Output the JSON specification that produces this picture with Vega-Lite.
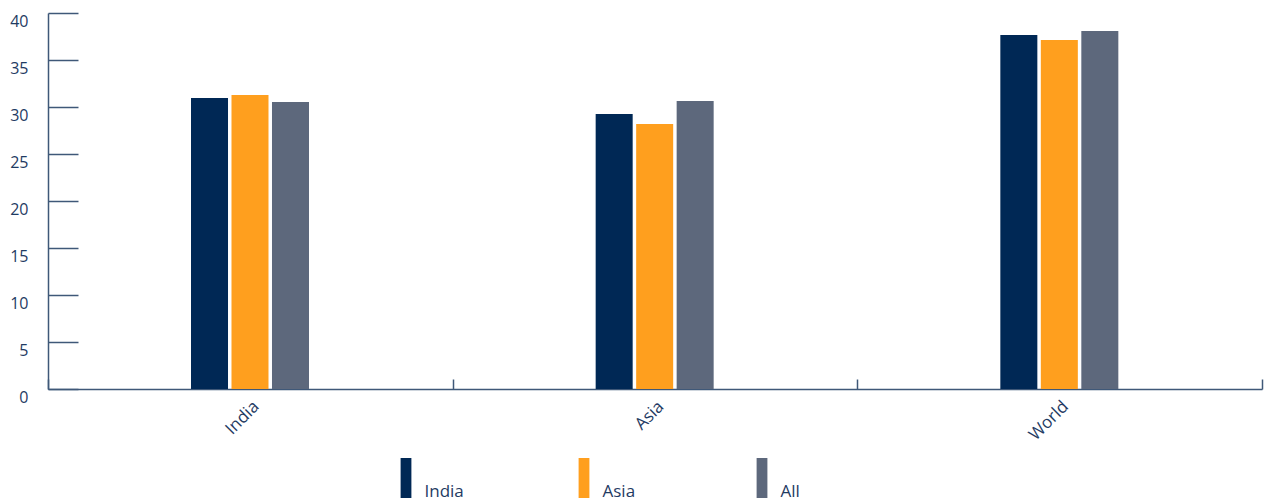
{
  "$schema": "https://vega.github.io/schema/vega-lite/v6.json",
  "width": 1214,
  "height": 376,
  "autosize": "none",
  "padding": {"left": 48, "top": 13, "right": 3, "bottom": 112},
  "background": "white",
  "config": {
    "view": {"stroke": null},
    "font": "Open Sans",
    "axis": {"labelFont": "Open Sans", "labelColor": "#1f3b63", "domainColor": "#3f5878", "tickColor": "#3f5878", "domainWidth": 1.5, "tickWidth": 1.5, "grid": false}
  },
  "data": {
    "values": [
      {"region": "India", "series": "India", "value": 30.96},
      {"region": "India", "series": "Asia", "value": 31.28},
      {"region": "India", "series": "All", "value": 30.53},
      {"region": "Asia", "series": "India", "value": 29.26},
      {"region": "Asia", "series": "Asia", "value": 28.19},
      {"region": "Asia", "series": "All", "value": 30.64},
      {"region": "World", "series": "India", "value": 37.66},
      {"region": "World", "series": "Asia", "value": 37.13},
      {"region": "World", "series": "All", "value": 38.09}
    ]
  },
  "mark": {"type": "bar"},
  "encoding": {
    "x": {
      "field": "region", "type": "nominal", "sort": ["India", "Asia", "World"],
      "scale": {"paddingInner": 0, "paddingOuter": 0},
      "axis": {"title": null, "labelAngle": -45, "labelFontSize": 17, "tickBand": "extent", "tickSize": -10, "labelPadding": 19}
    },
    "xOffset": {
      "field": "series", "type": "nominal", "sort": ["India", "Asia", "All"],
      "scale": {"range": [143, 261], "paddingInner": 0.086, "paddingOuter": 0}
    },
    "y": {
      "field": "value", "type": "quantitative",
      "scale": {"domain": [0, 40], "nice": false},
      "axis": {"title": null, "values": [0, 5, 10, 15, 20, 25, 30, 35, 40], "tickSize": -30, "labelPadding": 50, "labelBaseline": "top", "labelFontSize": 16}
    },
    "color": {
      "field": "series", "type": "nominal", "sort": ["India", "Asia", "All"],
      "scale": {"domain": ["India", "Asia", "All"], "range": ["#002855", "#FF9F1E", "#5D687C"]},
      "legend": {
        "title": null, "orient": "none", "direction": "horizontal", "legendX": 338, "legendY": 445,
        "padding": 0, "symbolType": "M-0.27,-1L0.27,-1L0.27,1L-0.27,1Z", "symbolSize": 1600, "symbolStrokeWidth": 0,
        "symbolOpacity": 1, "labelOffset": -1.5, "labelFontSize": 17, "labelColor": "#1f3b63", "labelFont": "Open Sans",
        "gridAlign": "all", "columnPadding": 100,
        "encode": {"labels": {"update": {"baseline": {"value": "alphabetic"}, "dy": {"value": 19}}}}
      }
    }
  }
}
